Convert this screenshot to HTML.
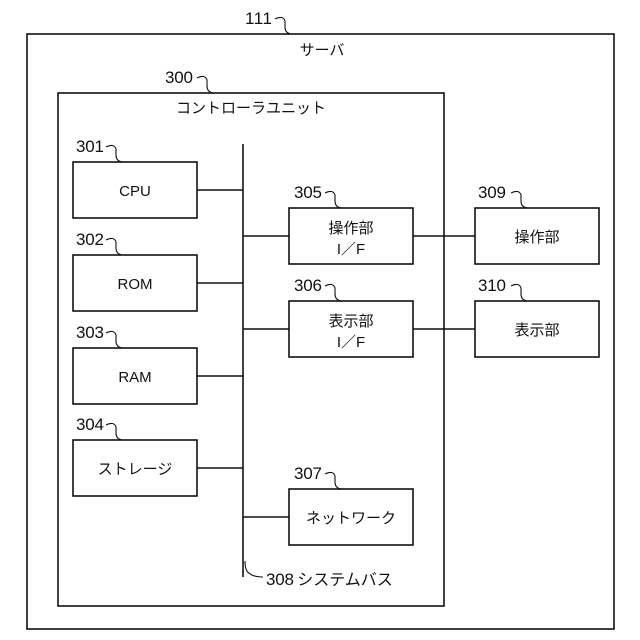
<!DOCTYPE html>
<html><head><meta charset="utf-8"><style>body{margin:0;background:#fff}svg{display:block}</style></head>
<body>
<svg width="640" height="640" viewBox="0 0 640 640" xmlns="http://www.w3.org/2000/svg" font-family="'Liberation Sans','Noto Sans CJK JP',sans-serif" fill="none" stroke="#111" stroke-width="1.6">
<rect x="27" y="34" width="587" height="595"/>
<rect x="58" y="93" width="386" height="513"/>
<line x1="243" y1="144" x2="243" y2="577"/>
<rect x="73" y="162" width="124" height="56"/>
<rect x="73" y="255" width="124" height="56"/>
<rect x="73" y="348" width="124" height="56"/>
<rect x="73" y="440" width="124" height="56"/>
<rect x="289" y="208" width="124" height="56"/>
<rect x="289" y="301" width="124" height="56"/>
<rect x="289" y="489" width="124" height="56"/>
<rect x="475" y="208" width="124" height="56"/>
<rect x="475" y="301" width="124" height="56"/>
<line x1="197" y1="190" x2="243" y2="190"/>
<line x1="197" y1="283" x2="243" y2="283"/>
<line x1="197" y1="376" x2="243" y2="376"/>
<line x1="197" y1="468" x2="243" y2="468"/>
<line x1="243" y1="236" x2="289" y2="236"/>
<line x1="243" y1="329" x2="289" y2="329"/>
<line x1="243" y1="517" x2="289" y2="517"/>
<line x1="413" y1="236" x2="475" y2="236"/>
<line x1="413" y1="329" x2="475" y2="329"/>
<g stroke-width="1.1">
<path d="M275,19 q8,-4 10,2 l0,6 q0,6 6,7"/>
<path d="M197,78 q8,-4 10,2 l0,6 q0,6 6,7"/>
<path d="M106,147 q8,-4 10,2 l0,6 q0,6 6,7"/>
<path d="M106,240 q8,-4 10,2 l0,6 q0,6 6,7"/>
<path d="M106,333 q8,-4 10,2 l0,6 q0,6 6,7"/>
<path d="M106,425 q8,-4 10,2 l0,6 q0,6 6,7"/>
<path d="M325,193 q8,-4 10,2 l0,6 q0,6 6,7"/>
<path d="M325,286 q8,-4 10,2 l0,6 q0,6 6,7"/>
<path d="M325,474 q8,-4 10,2 l0,6 q0,6 6,7"/>
<path d="M511,193 q8,-4 10,2 l0,6 q0,6 6,7"/>
<path d="M511,286 q8,-4 10,2 l0,6 q0,6 6,7"/>
<path d="M245,561 q0,10 4,12 q4,4 14,4"/>
</g>
<g fill="#111" stroke="none" font-size="17">
<text x="245" y="24" textLength="27">111</text>
<text x="165" y="83" textLength="28">300</text>
<text x="76" y="152" textLength="28">301</text>
<text x="76" y="245" textLength="28">302</text>
<text x="76" y="338" textLength="28">303</text>
<text x="76" y="430" textLength="28">304</text>
<text x="294" y="198" textLength="28">305</text>
<text x="294" y="291" textLength="28">306</text>
<text x="294" y="479" textLength="28">307</text>
<text x="478" y="198" textLength="28">309</text>
<text x="478" y="291" textLength="28">310</text>
<text x="266" y="585" textLength="28">308</text>
</g>
<g fill="#111" stroke="none" font-size="15" text-anchor="middle">
<text x="322" y="55">サーバ</text>
<text x="251" y="113">コントローラユニット</text>
<text x="135" y="196">CPU</text>
<text x="135" y="289">ROM</text>
<text x="135" y="382">RAM</text>
<text x="135" y="474">ストレージ</text>
<text x="351" y="233">操作部</text>
<text x="351" y="254">I／F</text>
<text x="351" y="326">表示部</text>
<text x="351" y="347">I／F</text>
<text x="351" y="523">ネットワーク</text>
<text x="537" y="242">操作部</text>
<text x="537" y="335">表示部</text>
<text x="345" y="585" font-size="16">システムバス</text>
</g>
</svg>
</body></html>
